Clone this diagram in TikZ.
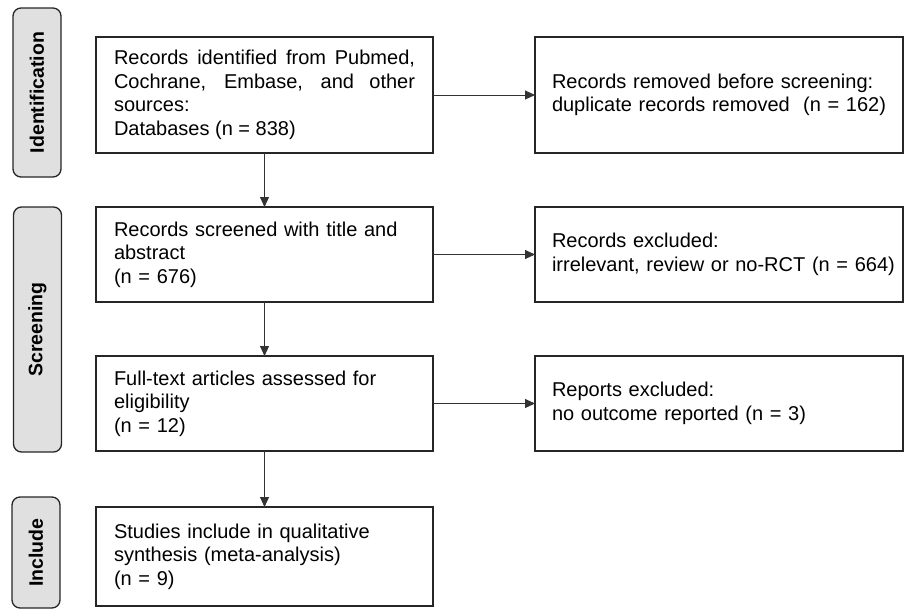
\documentclass[tikz,border=0pt]{standalone}
\usepackage{fontspec}
\setmainfont{Liberation Sans}
\usetikzlibrary{arrows.meta, positioning}

\begin{document}
\begin{tikzpicture}[x=1pt, y=1pt]
      \tikzset{
        stage/.style={rectangle, draw=black!85, line width=1.3pt, fill=white, outer sep=0pt,
                      minimum width=337pt, text width=301pt, inner xsep=18pt, align=left,
                      font=\fontsize{20}{23.5}\selectfont},
        excl/.style={stage, minimum width=368pt, text width=334pt, inner xsep=17pt},
        phase/.style={rectangle, rounded corners=8pt, draw=black!85, line width=1.3pt,
                      fill=black!12, rotate=90, minimum height=48pt,
                      font=\fontsize{19.5}{22}\selectfont\bfseries},
        pfeil/.style={-{Triangle[length=10pt,width=9pt]}, line width=0.9pt, black!80}
      }

      \useasboundingbox (0,0) rectangle (905,-613);

      \node[stage, minimum height=116pt, align=justify] (ident) at (264.5,-95) {
        Records identified from Pubmed, Cochrane, Embase, and other sources:\\
        Databases (n = 838)
      };

      \node[stage, minimum height=95pt, below=54pt of ident] (screen) {
        Records screened with title and\\
        abstract\\
        (n = 676)
      };

      \node[stage, minimum height=95pt, below=54pt of screen] (full) {
        Full-text articles assessed for\\
        eligibility\\
        (n = 12)
      };

      \node[stage, minimum height=99pt, below=56pt of full] (incl) {
        Studies include in qualitative\\
        synthesis (meta-analysis)\\
        (n = 9)
      };

      \node[excl, minimum height=116pt, right=102pt of ident] (dup) {
        Records removed before screening:\\
        \mbox{duplicate records removed\ \ (n = 162)}
      };

      \node[excl, minimum height=95pt, right=102pt of screen] (irr) {
        Records excluded:\\
        \mbox{irrelevant, review or no-RCT (n = 664)}
      };

      \node[excl, minimum height=95pt, right=102pt of full] (rep) {
        Reports excluded:\\
        no outcome reported (n = 3)
      };

      % phase labels on the left
      \node[phase, minimum width=169pt] (phase1) at (37,-92.5) {Identification};
      \node[phase, minimum width=245pt] (phase2) at (37.5,-329.5) {Screening};
      \node[phase, minimum width=111pt] (phase3) at (36,-552.5) {Include};

      \draw[pfeil] (ident) -- (screen);
      \draw[pfeil] (screen) -- (full);
      \draw[pfeil] (full) -- (incl);
      \draw[pfeil] (ident) -- (dup);
      \draw[pfeil] (screen) -- (irr);
      \draw[pfeil] (full) -- (rep);

    \end{tikzpicture}
\end{document}
